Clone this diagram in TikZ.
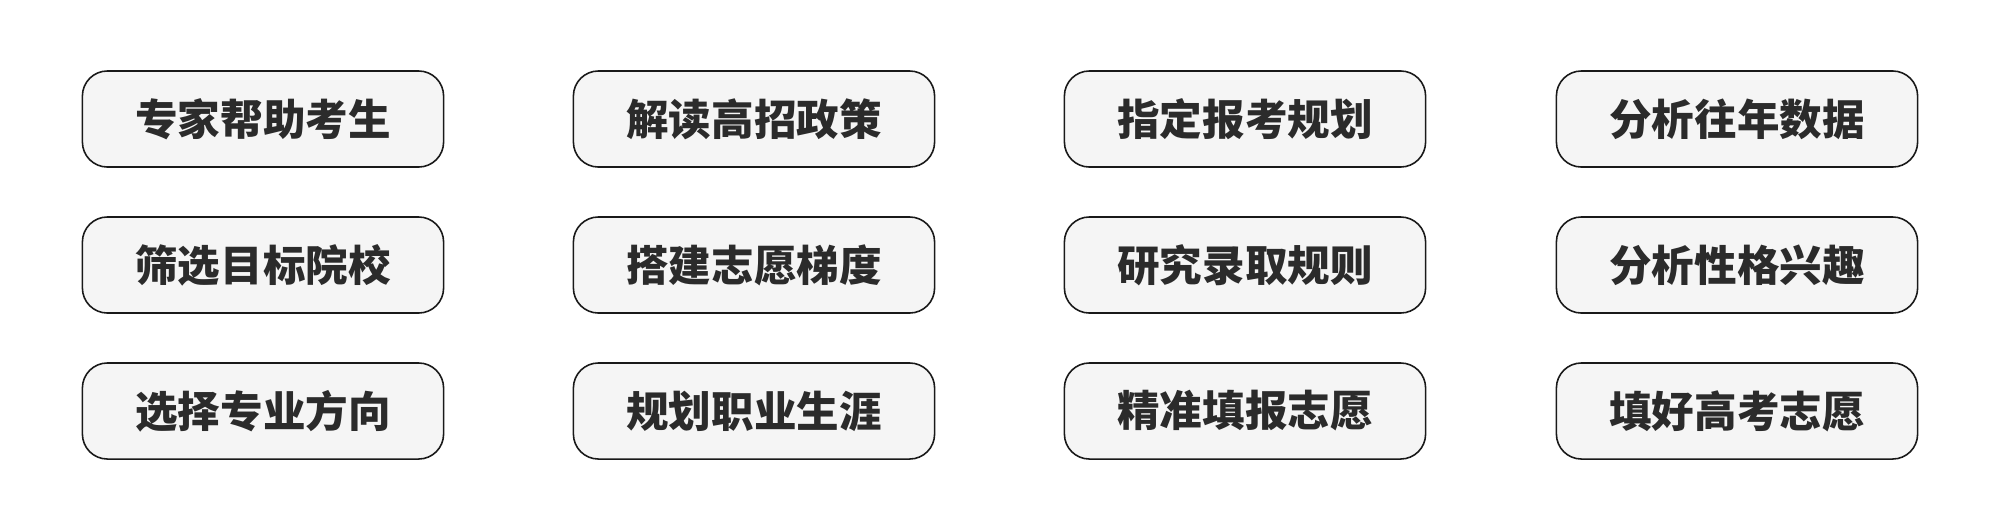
\documentclass[tikz,border=0pt]{standalone}
\usepackage{fontspec}
\newfontfamily\cjk{Noto Sans CJK SC}
\usepackage{tikz}
\usetikzlibrary{positioning}
\definecolor{boxfill}{HTML}{F5F5F5}
\definecolor{boxtext}{HTML}{2B2B2B}

\begin{document}
\begin{tikzpicture}[x=0.01cm, y=0.01cm, font=\cjk\bfseries\fontsize{12.1}{14}\selectfont]
		\tikzset{task/.style={draw=black!90, line width=0.45pt, fill=boxfill, rounded corners=0.25cm, minimum width=3.61cm, minimum height=0.96cm, inner sep=0pt, text=boxtext}}
		\useasboundingbox (0,0) rectangle (2000,529);
		% row 1
		\node[task] (expert) at (263,410) {专家帮助考生};
		\node[task] (policy) at (754,410) {解读高招政策};
		\node[task] (plan) at (1245,410) {指定报考规划};
		\node[task] (data) at (1737,410) {分析往年数据};
		% row 2
		\node[task] (school) at (263,264) {筛选目标院校};
		\node[task] (ladder) at (754,264) {搭建志愿梯度};
		\node[task] (rules) at (1245,264) {研究录取规则};
		\node[task] (interest) at (1737,264) {分析性格兴趣};
		% row 3
		\node[task] (major) at (263,118) {选择专业方向};
		\node[task] (career) at (754,118) {规划职业生涯};
		\node[task] (fill) at (1245,118) {精准填报志愿};
		\node[task] (done) at (1737,118) {填好高考志愿};
	\end{tikzpicture}
\end{document}
